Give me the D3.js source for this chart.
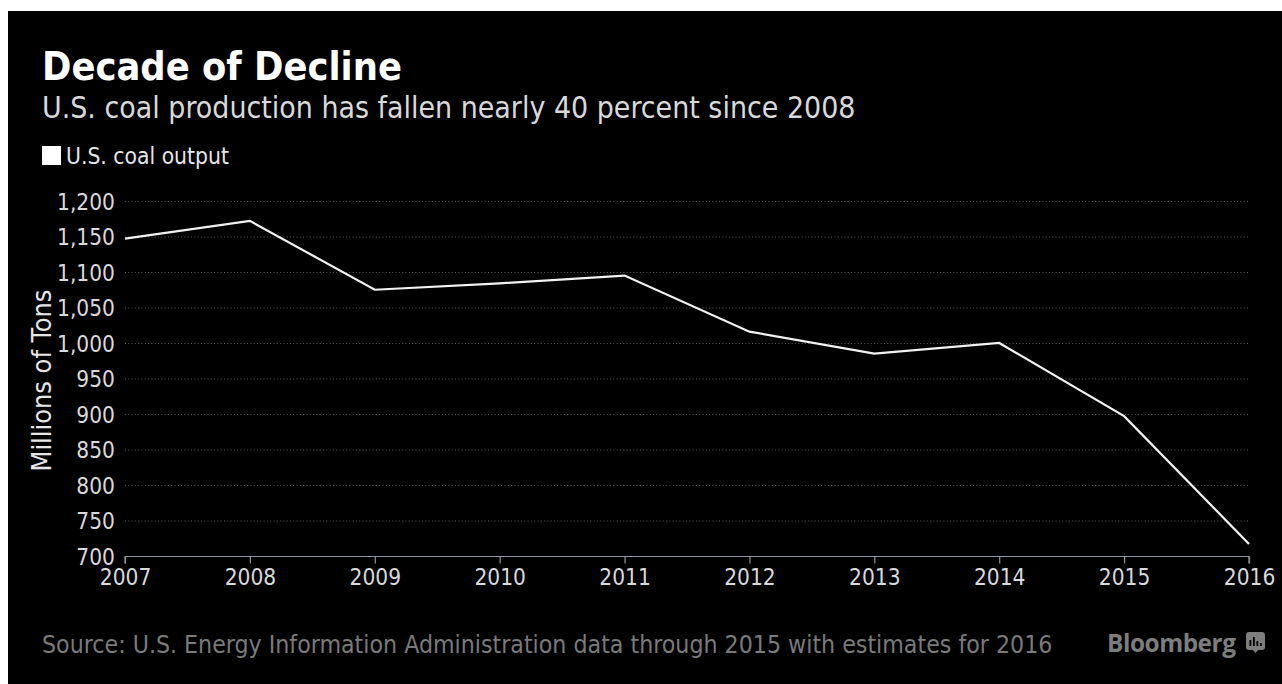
<!DOCTYPE html>
<html><head><meta charset="utf-8">
<script src="https://cdn.jsdelivr.net/npm/d3@7"></script>
<style>
html,body{margin:0;padding:0;background:#fff;}
svg{display:block;}
text{font-family:"DejaVu Sans Condensed","DejaVu Sans",sans-serif;font-stretch:condensed;}
</style></head>
<body>
<svg id="chart" width="1282" height="684"></svg>
<script>
const years = [2007, 2008, 2009, 2010, 2011, 2012, 2013, 2014, 2015, 2016];
const coalOutput = [1147, 1172, 1075, 1084, 1095, 1016, 985, 1000, 897, 717];
const yTicks = [700, 750, 800, 850, 900, 950, 1000, 1050, 1100, 1150, 1200];
const title = "Decade of Decline";
const subtitle = "U.S. coal production has fallen nearly 40 percent since 2008";
const seriesName = "U.S. coal output";
const yAxisTitle = "Millions of Tons";
const sourceText = "Source: U.S. Energy Information Administration data through 2015 with estimates for 2016";

const svg = d3.select("#chart");
svg.append("rect").attr("x", 8).attr("y", 11).attr("width", 1274).attr("height", 673).attr("fill", "#000");

const margin = {left: 125, right: 1249, top: 201, bottom: 556};
const x = d3.scaleLinear().domain([2007, 2016]).range([margin.left, margin.right]);
const y = d3.scaleLinear().domain([700, 1200]).range([margin.bottom, margin.top]);

function fit(sel, target) {
  const w = sel.node().getComputedTextLength();
  const fs = parseFloat(sel.attr("font-size"));
  sel.attr("font-size", fs * target / w);
}

// Title
const t = svg.append("text").attr("x", 42).attr("y", 80).attr("fill", "#fff")
  .attr("font-size", 35).attr("font-weight", "bold").text(title);
fit(t, 360);
const st = svg.append("text").attr("x", 42).attr("y", 118).attr("fill", "#d9d9d9")
  .attr("font-size", 28).text(subtitle);
fit(st, 814);

// Legend
svg.append("rect").attr("x", 42).attr("y", 146).attr("width", 19).attr("height", 19).attr("fill", "#fff");
const lg = svg.append("text").attr("x", 66).attr("y", 164).attr("fill", "#e6e6e6")
  .attr("font-size", 20).text(seriesName);
fit(lg, 163);

// Gridlines
svg.append("g").selectAll("line").data(yTicks.filter(d => d !== 700)).join("line")
  .attr("x1", margin.left).attr("x2", margin.right)
  .attr("y1", d => y(d) + 0.5).attr("y2", d => y(d) + 0.5)
  .attr("stroke", "#5a5a5a").attr("stroke-width", 1).attr("stroke-dasharray", "1,2.3");

const tickFont = '"DejaVu Sans Condensed","DejaVu Sans",sans-serif';

// Y axis labels
const yAxis = d3.axisLeft(y).tickValues(yTicks).tickSize(0).tickPadding(10)
  .tickFormat(d3.format(","));
const yg = svg.append("g").attr("transform", `translate(${margin.left},0)`).call(yAxis);
yg.select(".domain").remove();
yg.selectAll("text").attr("fill", "#d9d9d9").attr("font-size", 22.5)
  .attr("font-family", tickFont).attr("dy", "0.36em");

// X axis
const xAxis = d3.axisBottom(x).tickValues(years).tickSize(7).tickPadding(6).tickFormat(d3.format("d"));
const xg = svg.append("g").attr("transform", `translate(0,${margin.bottom + 0.5})`).call(xAxis);
xg.select(".domain").attr("stroke", "#8c95a0").attr("stroke-width", 1.2)
  .attr("d", `M${margin.left},7V0H${margin.right}V7`);
xg.selectAll(".tick line").attr("stroke", "#8c95a0").attr("stroke-width", 1.2);
xg.selectAll("text").attr("fill", "#d9d9d9").attr("font-size", 22.5)
  .attr("font-family", tickFont);

// Y axis title
const yt = svg.append("text").attr("transform", `translate(51,${(margin.top + margin.bottom) / 2 + 2}) rotate(-90)`)
  .attr("text-anchor", "middle").attr("fill", "#e6e6e6").attr("font-size", 22).text(yAxisTitle);
fit(yt, 182);

// Line
const line = d3.line().x((d, i) => x(years[i])).y(d => y(d));
svg.append("path").datum(coalOutput).attr("d", line).attr("fill", "none")
  .attr("stroke", "#f2f2f2").attr("stroke-width", 2.2).attr("stroke-linejoin", "miter");

// Source
const src = svg.append("text").attr("x", 42).attr("y", 653).attr("fill", "#7a7a7a")
  .attr("font-size", 22).text(sourceText);
fit(src, 1011);

// Bloomberg
const bb = svg.append("text").attr("x", 1107).attr("y", 652).attr("fill", "#7d7d7d")
  .attr("font-size", 22).attr("font-weight", "bold")
  .style("font-family", '"Open Sans","DejaVu Sans",sans-serif').style("font-stretch", "normal")
  .style("letter-spacing", "-0.5px").text("Bloomberg");
fit(bb, 128);
const icon = svg.append("g").attr("transform", "translate(1246,632)");
icon.append("path").attr("d", "M3,0H16A3,3 0 0 1 19,3V15A3,3 0 0 1 16,18H12L9.5,21L7,18H3A3,3 0 0 1 0,15V3A3,3 0 0 1 3,0Z")
  .attr("fill", "#7d7d7d");
[[4,8],[7.5,5],[11,9],[14.5,11]].forEach(([bx, by]) => {
  icon.append("rect").attr("x", bx - 0.5).attr("y", by).attr("width", 1.8).attr("height", 14 - by).attr("fill", "#000");
});
</script>
</body></html>
